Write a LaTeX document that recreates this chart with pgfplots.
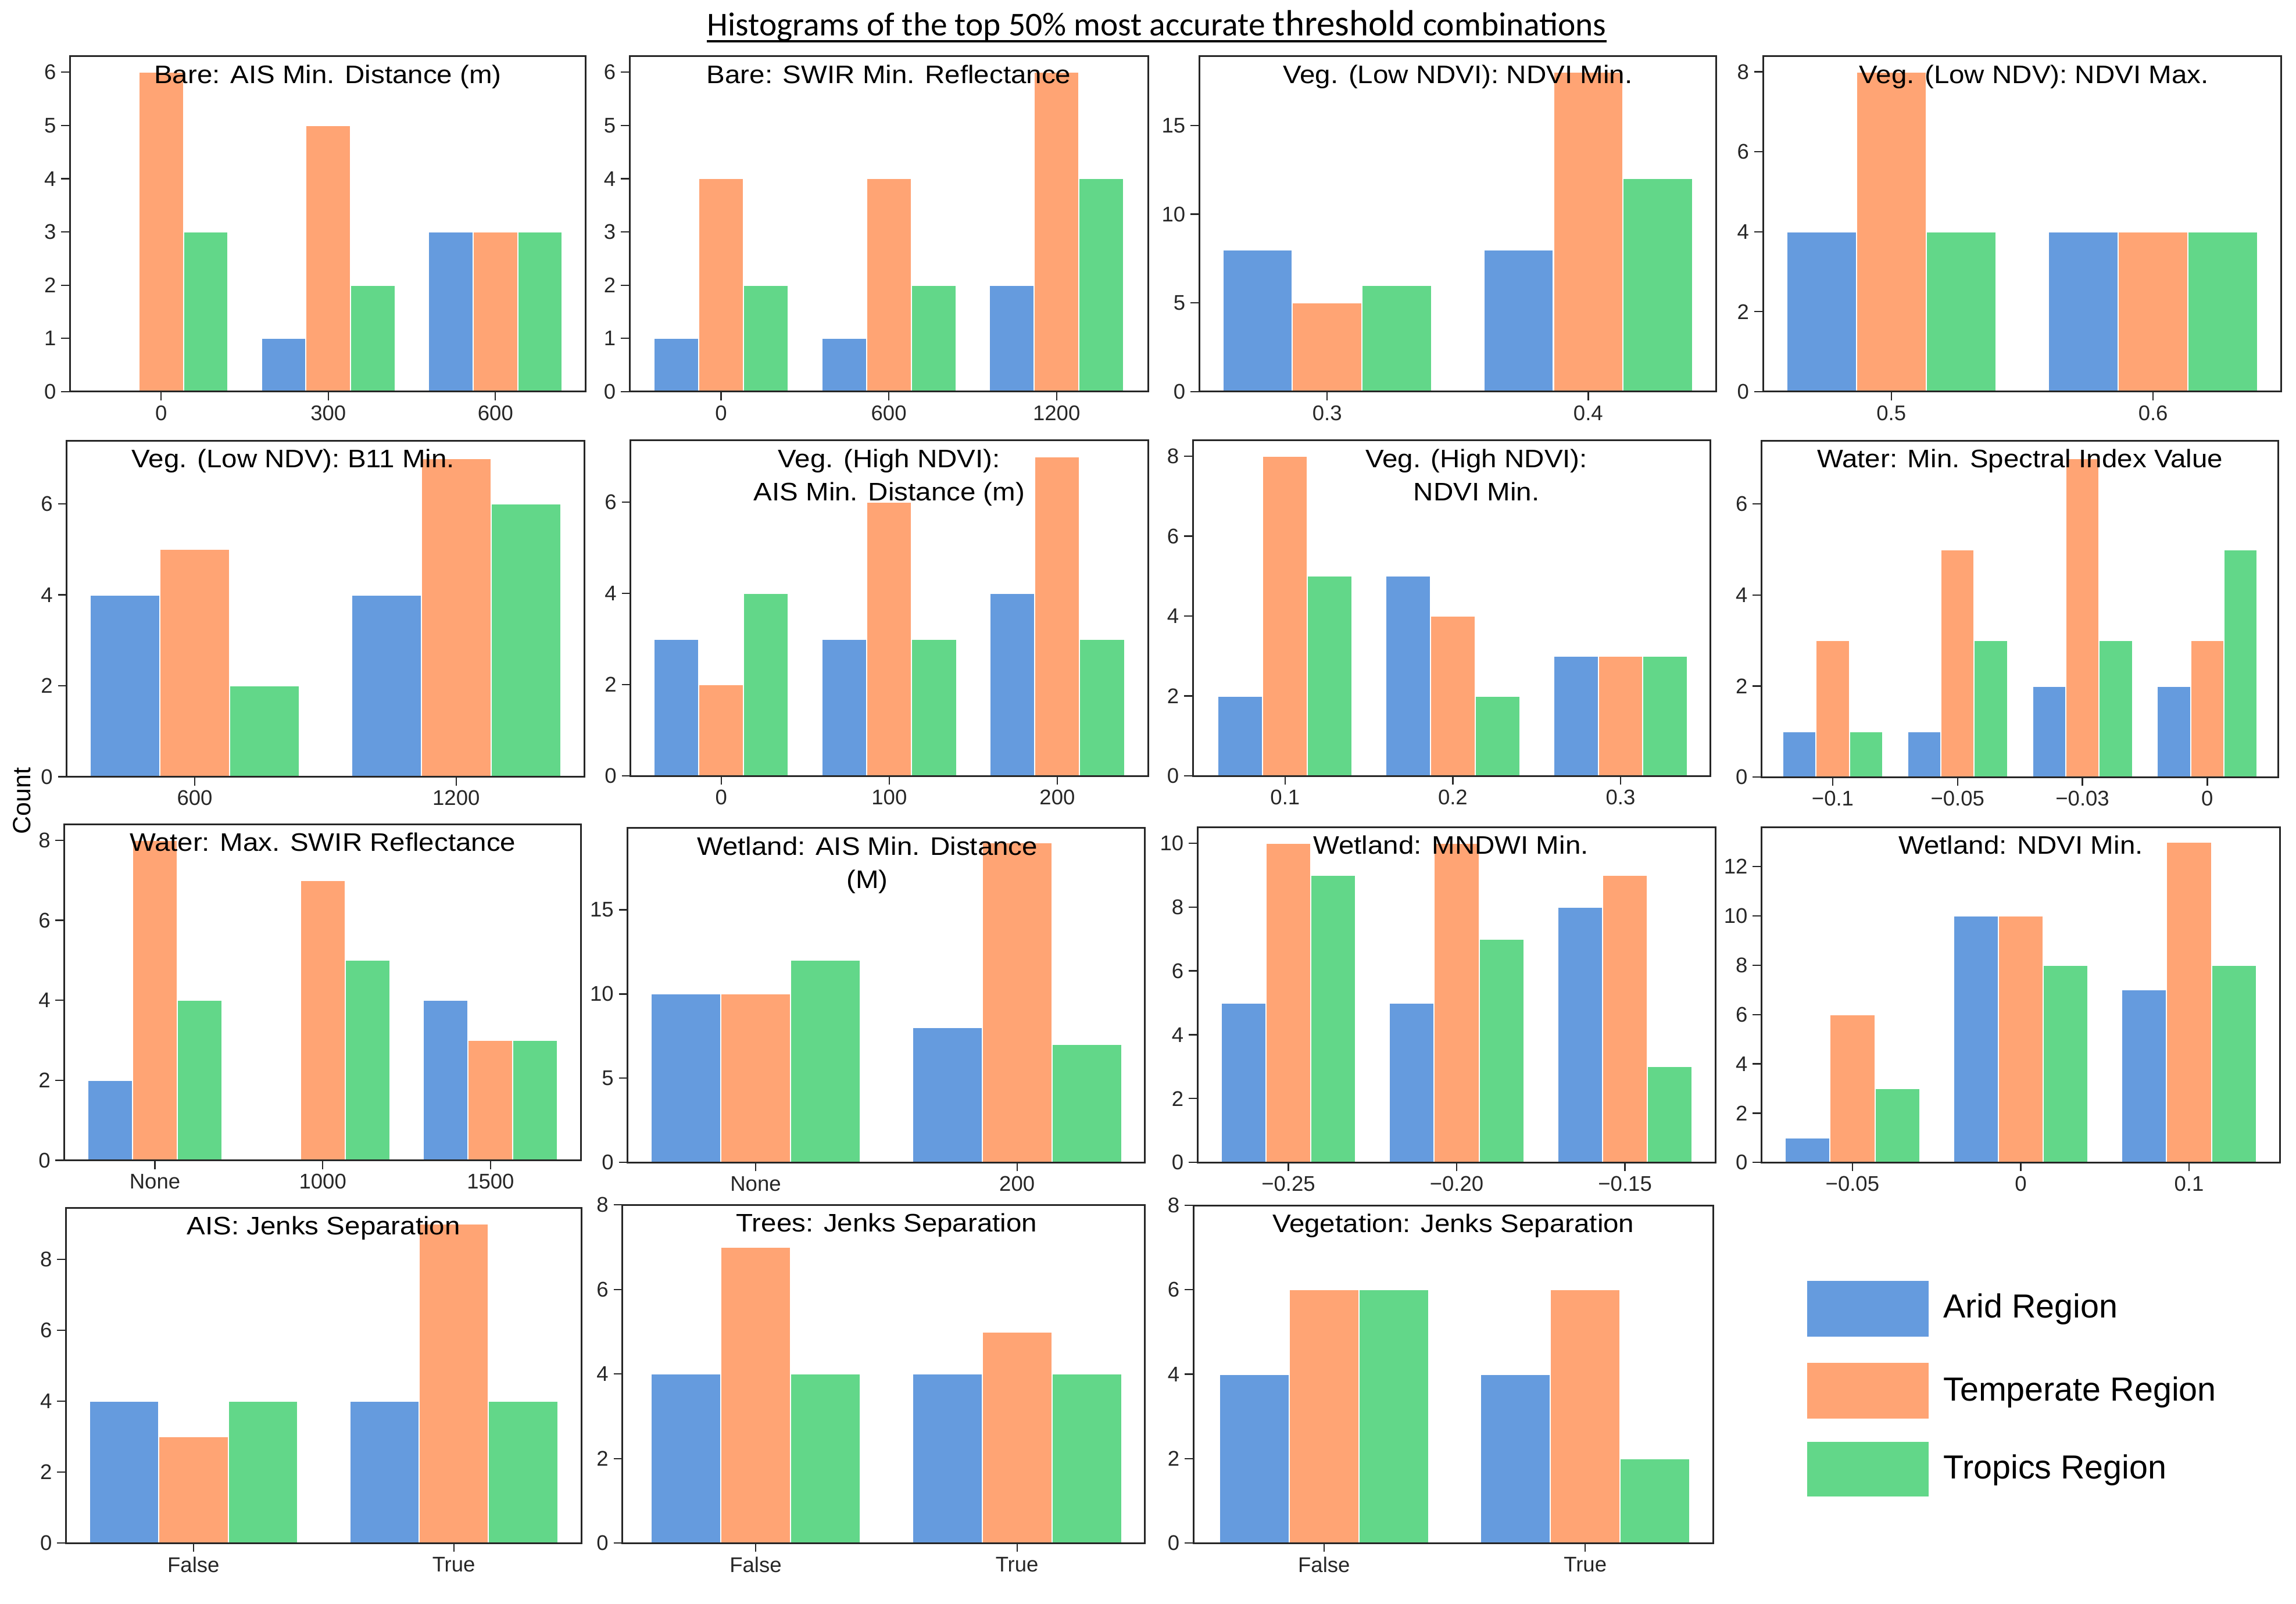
\documentclass[border=0pt]{standalone}
\usepackage{fontspec}
\setmainfont{Liberation Sans}
\newfontfamily\titlefont{Carlito}
\newfontfamily\panelfont[FakeStretch=1.09]{Liberation Sans}
\usepackage{pgfplots}
\pgfplotsset{compat=1.18}

\definecolor{cArid}{HTML}{659BDE}
\definecolor{cTemp}{HTML}{FFA474}
\definecolor{cTrop}{HTML}{62D789}

\tikzset{
  ptitle/.style={anchor=base, inner sep=0pt, yshift=-18.5pt,
    font=\panelfont\fontsize{17.3}{20}\selectfont, text=black},
}

\pgfplotsset{
  panel/.style={
    scale only axis, anchor=north west,
    ymin=0, axis on top, tick align=outside, tick pos=left,
    axis line style={draw=black!85, line width=1.2pt},
    tick style={draw=black!85, line width=0.9pt},
    major tick length=6pt,
    tick label style={font=\fontsize{14.5}{16}\selectfont, text=black!85},
    /pgf/number format/assume math mode=true,
  },
  arid/.style={ybar, bar width=0.2667, bar shift=-0.2667, fill=cArid, draw=white, line width=0.8pt},
  temp/.style={ybar, bar width=0.2667, bar shift=0, fill=cTemp, draw=white, line width=0.8pt},
  trop/.style={ybar, bar width=0.2667, bar shift=0.2667, fill=cTrop, draw=white, line width=0.8pt},
}

\begin{document}
\begin{tikzpicture}
\useasboundingbox (0pt,0pt) rectangle (1568pt,-1095.6pt);

% main title
\node[anchor=base, inner sep=0pt, font=\titlefont\fontsize{22.8}{26}\selectfont] (T) at (790pt,-24.5pt)
  {Histograms of the top 50\% most accurate {\fontsize{25}{28}\selectfont threshold} combinations};
\draw[line width=1.6pt] ([yshift=-3.5pt]T.base west) -- ([yshift=-3.5pt]T.base east);

\node[rotate=90, font=\fontsize{17}{20}\selectfont] at (15pt,-547pt) {Count};

%% row 1
\begin{axis}[panel, at={(47.8pt,-38.4pt)}, width=352.2pt, height=229.1pt,
  xmin=-0.545, xmax=2.54, ymax=6.3,
  xtick={0,1,2}, xticklabels={0,300,600}, ytick={0,1,2,3,4,5,6}]
\addplot[arid] coordinates {(0,0) (1,1) (2,3)};
\addplot[temp] coordinates {(0,6) (1,5) (2,3)};
\addplot[trop] coordinates {(0,3) (1,2) (2,3)};
\node[ptitle] at (rel axis cs:0.5,1) {Bare: AIS Min. Distance (m)};
\end{axis}

\begin{axis}[panel, at={(430pt,-38.4pt)}, width=354pt, height=229.1pt,
  xmin=-0.545, xmax=2.545, ymax=6.3,
  xtick={0,1,2}, xticklabels={0,600,1200}, ytick={0,1,2,3,4,5,6}]
\addplot[arid] coordinates {(0,1) (1,1) (2,2)};
\addplot[temp] coordinates {(0,4) (1,4) (2,6)};
\addplot[trop] coordinates {(0,2) (1,2) (2,4)};
\node[ptitle] at (rel axis cs:0.5,1) {Bare: SWIR Min. Reflectance};
\end{axis}

\begin{axis}[panel, at={(819pt,-38.4pt)}, width=353pt, height=229.1pt,
  xmin=-0.49, xmax=1.49, ymax=18.9,
  xtick={0,1}, xticklabels={0.3,0.4}, ytick={0,5,10,15}]
\addplot[arid] coordinates {(0,8) (1,8)};
\addplot[temp] coordinates {(0,5) (1,18)};
\addplot[trop] coordinates {(0,6) (1,12)};
\node[ptitle] at (rel axis cs:0.5,1) {Veg. (Low NDVI): NDVI Min.};
\end{axis}

\begin{axis}[panel, at={(1204pt,-38.4pt)}, width=354pt, height=229.1pt,
  xmin=-0.49, xmax=1.49, ymax=8.39,
  xtick={0,1}, xticklabels={0.5,0.6}, ytick={0,2,4,6,8}]
\addplot[arid] coordinates {(0,4) (1,4)};
\addplot[temp] coordinates {(0,8) (1,4)};
\addplot[trop] coordinates {(0,4) (1,4)};
\node[ptitle, xshift=8pt] at (rel axis cs:0.5,1) {Veg. (Low NDV): NDVI Max.};
\end{axis}

%% row 2
\begin{axis}[panel, at={(45.5pt,-301pt)}, width=353.5pt, height=229.5pt,
  xmin=-0.49, xmax=1.49, ymax=7.39,
  xtick={0,1}, xticklabels={600,1200}, ytick={0,2,4,6}]
\addplot[arid] coordinates {(0,4) (1,4)};
\addplot[temp] coordinates {(0,5) (1,7)};
\addplot[trop] coordinates {(0,2) (1,6)};
\node[ptitle, xshift=-22pt] at (rel axis cs:0.5,1) {Veg. (Low NDV): B11 Min.};
\end{axis}

\begin{axis}[panel, at={(430.6pt,-300.7pt)}, width=353.4pt, height=229.3pt,
  xmin=-0.54, xmax=2.54, ymax=7.36,
  xtick={0,1,2}, xticklabels={0,100,200}, ytick={0,2,4,6}]
\addplot[arid] coordinates {(0,3) (1,3) (2,4)};
\addplot[temp] coordinates {(0,2) (1,6) (2,7)};
\addplot[trop] coordinates {(0,4) (1,3) (2,3)};
\node[ptitle] at (rel axis cs:0.5,1) {Veg. (High NDVI):};
\node[ptitle, yshift=-22.8pt] at (rel axis cs:0.5,1) {AIS Min. Distance (m)};
\end{axis}

\begin{axis}[panel, at={(814.6pt,-300.7pt)}, width=353.4pt, height=229.3pt,
  xmin=-0.55, xmax=2.535, ymax=8.4,
  xtick={0,1,2}, xticklabels={0.1,0.2,0.3}, ytick={0,2,4,6,8}]
\addplot[arid] coordinates {(0,2) (1,5) (2,3)};
\addplot[temp] coordinates {(0,8) (1,4) (2,3)};
\addplot[trop] coordinates {(0,5) (1,2) (2,3)};
\node[ptitle, xshift=17pt] at (rel axis cs:0.5,1) {Veg. (High NDVI):};
\node[ptitle, xshift=17pt, yshift=-22.8pt] at (rel axis cs:0.5,1) {NDVI Min.};
\end{axis}

\begin{axis}[panel, at={(1203pt,-301pt)}, width=353pt, height=229.8pt,
  xmin=-0.57, xmax=3.57, ymax=7.39,
  xtick={0,1,2,3}, xticklabels={−0.1,−0.05,−0.03,0}, ytick={0,2,4,6}]
\addplot[arid] coordinates {(0,1) (1,1) (2,2) (3,2)};
\addplot[temp] coordinates {(0,3) (1,5) (2,7) (3,3)};
\addplot[trop] coordinates {(0,1) (1,3) (2,3) (3,5)};
\node[ptitle] at (rel axis cs:0.5,1) {Water: Min. Spectral Index Value};
\end{axis}

%% row 3
\begin{axis}[panel, at={(43.9pt,-563pt)}, width=353pt, height=229.5pt,
  xmin=-0.54, xmax=2.54, ymax=8.4,
  xtick={0,1,2}, xticklabels={None,1000,1500}, ytick={0,2,4,6,8}]
\addplot[arid] coordinates {(0,2) (1,0) (2,4)};
\addplot[temp] coordinates {(0,8) (1,7) (2,3)};
\addplot[trop] coordinates {(0,4) (1,5) (2,3)};
\node[ptitle] at (rel axis cs:0.5,1) {Water: Max. SWIR Reflectance};
\end{axis}

\begin{axis}[panel, at={(428.6pt,-565.5pt)}, width=353.4pt, height=228.5pt,
  xmin=-0.49, xmax=1.49, ymax=19.86,
  xtick={0,1}, xticklabels={None,200}, ytick={0,5,10,15}]
\addplot[arid] coordinates {(0,10) (1,8)};
\addplot[temp] coordinates {(0,10) (1,19)};
\addplot[trop] coordinates {(0,12) (1,7)};
\node[ptitle, xshift=-13pt] at (rel axis cs:0.5,1) {Wetland: AIS Min. Distance};
\node[ptitle, xshift=-13pt, yshift=-22.8pt] at (rel axis cs:0.5,1) {(M)};
\end{axis}

\begin{axis}[panel, at={(817.8pt,-565pt)}, width=354pt, height=229pt,
  xmin=-0.54, xmax=2.54, ymax=10.5,
  xtick={0,1,2}, xticklabels={−0.25,−0.20,−0.15}, ytick={0,2,4,6,8,10}]
\addplot[arid] coordinates {(0,5) (1,5) (2,8)};
\addplot[temp] coordinates {(0,10) (1,10) (2,9)};
\addplot[trop] coordinates {(0,9) (1,7) (2,3)};
\node[ptitle, xshift=-4pt] at (rel axis cs:0.5,1) {Wetland: MNDWI Min.};
\end{axis}

\begin{axis}[panel, at={(1203pt,-565pt)}, width=354pt, height=229pt,
  xmin=-0.54, xmax=2.54, ymax=13.6,
  xtick={0,1,2}, xticklabels={−0.05,0,0.1}, ytick={0,2,4,6,8,10,12}]
\addplot[arid] coordinates {(0,1) (1,10) (2,7)};
\addplot[temp] coordinates {(0,6) (1,10) (2,13)};
\addplot[trop] coordinates {(0,3) (1,8) (2,8)};
\node[ptitle] at (rel axis cs:0.5,1) {Wetland: NDVI Min.};
\end{axis}

%% row 4
\begin{axis}[panel, at={(45pt,-825pt)}, width=352pt, height=229pt,
  xmin=-0.49, xmax=1.49, ymax=9.45,
  xtick={0,1}, xticklabels={False,True}, ytick={0,2,4,6,8}]
\addplot[arid] coordinates {(0,4) (1,4)};
\addplot[temp] coordinates {(0,3) (1,9)};
\addplot[trop] coordinates {(0,4) (1,4)};
\node[ptitle] at (rel axis cs:0.5,1) {AIS: Jenks Separation};
\end{axis}

\begin{axis}[panel, at={(425pt,-823pt)}, width=357pt, height=231pt,
  xmin=-0.51, xmax=1.49, ymax=8,
  xtick={0,1}, xticklabels={False,True}, ytick={0,2,4,6,8}]
\addplot[arid] coordinates {(0,4) (1,4)};
\addplot[temp] coordinates {(0,7) (1,5)};
\addplot[trop] coordinates {(0,4) (1,4)};
\node[ptitle, xshift=2pt] at (rel axis cs:0.5,1) {Trees: Jenks Separation};
\end{axis}

\begin{axis}[panel, at={(815pt,-823.3pt)}, width=355pt, height=230.7pt,
  xmin=-0.5, xmax=1.49, ymax=8,
  xtick={0,1}, xticklabels={False,True}, ytick={0,2,4,6,8}]
\addplot[arid] coordinates {(0,4) (1,4)};
\addplot[temp] coordinates {(0,6) (1,6)};
\addplot[trop] coordinates {(0,6) (1,2)};
\node[ptitle] at (rel axis cs:0.5,1) {Vegetation: Jenks Separation};
\end{axis}

% legend
\fill[cArid] (1234pt,-875pt) rectangle (1317pt,-913pt);
\fill[cTemp] (1234pt,-931pt) rectangle (1317pt,-969pt);
\fill[cTrop] (1234pt,-985pt) rectangle (1317pt,-1022pt);
\begin{scope}[every node/.style={anchor=base west, inner sep=0pt, font=\fontsize{22.8}{26}\selectfont}]
\node at (1327pt,-900pt) {Arid Region};
\node at (1327pt,-957pt) {Temperate Region};
\node at (1327pt,-1010pt) {Tropics Region};
\end{scope}
\end{tikzpicture}
\end{document}
